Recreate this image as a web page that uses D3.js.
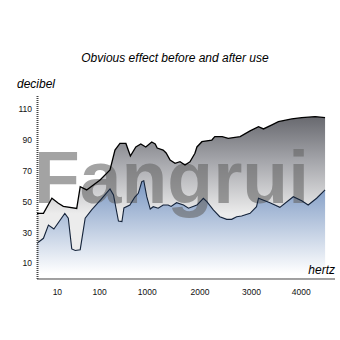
<!DOCTYPE html>
<head>
  <meta charset="utf-8">
  <script src="https://d3js.org/d3.v7.min.js"></script>
  <style>
    body { margin:0; background:#fff; }
    text { font-family: "Liberation Sans", Arial, sans-serif; }
  </style>
</head>
<body>
<script>
  // x is in axis "steps" (0..60), the frequency labels sit at uneven steps
  var tickPos = [4, 12.5, 22.1, 32.7, 43.1, 53.1]
  var tickLabels = ["10", "100", "1000", "2000", "3000", "4000"]
  var dbTicks = [10, 30, 50, 70, 90, 110]

  // before use (upper, grey)
  var beforeX = [0, 1.3, 3, 4.3, 5.3, 8, 8.7, 10, 12.7, 14.7, 15.7, 16.7, 17.9, 18.8, 19.9, 20.9, 21.9, 23.1, 23.8, 24.2,
    25.4, 26, 26.8, 27.8, 28.8, 29.8, 30.8, 31.8, 32.2, 33.2, 35.2, 35.8, 37.3, 38.5, 40.9, 42.9, 44.6, 45.6, 47.3, 48.6,
    51.3, 53.3, 56, 58]
  var beforeDb = [42.3, 42.3, 52.1, 48.8, 46.8, 45.5, 59.6, 57.5, 64, 70.5, 83.4, 87.7, 87.7, 79.5, 85.4, 87.3, 85.4, 88.6, 87.3, 84.7,
    83.4, 81.5, 76.9, 74.8, 75.8, 73.7, 75.8, 81.3, 85.4, 88.8, 89.9, 92.1, 92.1, 91, 92.1, 95.8, 98.6, 97.1, 99.7, 101.8,
    103.6, 104.4, 105.1, 104.4]

  // after use (lower, blue)
  var afterX = [0, 1.3, 2.3, 3.4, 5.6, 6.3, 7, 7.7, 8.7, 9.7, 11, 12.9, 14.7, 15.4, 16.4, 17.1, 17.5, 18.7, 19.7, 20.4,
    21.1, 21.5, 22.1, 22.8, 23.4, 24.4, 25.4, 26.4, 27, 28.1, 29.5, 30.5, 32.2, 33.5, 34.2, 35.5, 36.8, 38.2, 39.2, 40.2,
    41.2, 42.9, 44.2, 44.6, 46.9, 48.9, 51.6, 53.3, 54.6, 56.3, 58]
  var afterDb = [22.9, 26.1, 34.7, 32.1, 42.3, 39.1, 19.2, 18.2, 18.7, 39.1, 44.5, 51.3, 58.1, 54.2, 37.3, 36.9, 45.8, 47.7, 52.9, 55.3,
    62.9, 63.5, 53.1, 45.1, 46.6, 45.6, 47.7, 47.7, 46.8, 49.2, 47.7, 45.6, 47.7, 52.1, 49.9, 44.5, 40.1, 38.4, 38.4, 40.1,
    40.6, 42.3, 46.6, 52.1, 49.2, 46.2, 53.1, 50.5, 47.7, 52.1, 57.5]

  var svg = d3.select("body")
    .append("svg")
    .attr("width", 340)
    .attr("height", 340)

  var x = d3.scaleLinear().domain([0, 60]).range([37, 335])
  var y = d3.scaleLinear().domain([0, 119]).range([278.5, 95.2])

  var defs = svg.append("defs")
  var gGrey = defs.append("linearGradient").attr("id", "grey")
    .attr("gradientUnits", "userSpaceOnUse")
    .attr("x1", 0).attr("y1", y(106)).attr("x2", 0).attr("y2", y(42))
  gGrey.append("stop").attr("offset", 0).attr("stop-color", "#66676d")
  gGrey.append("stop").attr("offset", 0.45).attr("stop-color", "#a3a4a9")
  gGrey.append("stop").attr("offset", 1).attr("stop-color", "#ececec")

  var gBlue = defs.append("linearGradient").attr("id", "blue")
    .attr("gradientUnits", "userSpaceOnUse")
    .attr("x1", 0).attr("y1", y(64)).attr("x2", 0).attr("y2", y(3))
  gBlue.append("stop").attr("offset", 0).attr("stop-color", "#7a97c2")
  gBlue.append("stop").attr("offset", 1).attr("stop-color", "#ffffff")

  var before = beforeX.map(function(d, i) { return [d, beforeDb[i]] })
  var after = afterX.map(function(d, i) { return [d, afterDb[i]] })

  var area = d3.area()
    .x(function(d) { return x(d[0]) })
    .y0(y(0))
    .y1(function(d) { return y(d[1]) })
  var line = d3.line()
    .x(function(d) { return x(d[0]) })
    .y(function(d) { return y(d[1]) })

  svg.append("path").attr("d", area(before)).attr("fill", "url(#grey)")
  svg.append("path").attr("d", area(after)).attr("fill", "url(#blue)")

  // watermark
  svg.append("text")
    .attr("x", 34)
    .attr("y", 203)
    .style("font-family", "Liberation Sans, Arial, sans-serif")
    .style("font-weight", "bold")
    .style("font-size", "75px")
    .attr("fill", "#666")
    .attr("fill-opacity", 0.6)
    .text("Fangrui")

  svg.append("path").attr("d", line(before))
    .attr("fill", "none").attr("stroke", "#000").attr("stroke-width", 1.3)
  svg.append("path").attr("d", line(after))
    .attr("fill", "none").attr("stroke", "#14233a").attr("stroke-width", 1.1)

  var xAxis = d3.axisBottom(x)
    .tickValues(tickPos)
    .tickFormat(function(d, i) { return tickLabels[i] })
    .tickSize(0)
    .tickPadding(10)
  var yAxis = d3.axisLeft(y)
    .tickValues(dbTicks)
    .tickSize(0)
    .tickPadding(5)

  svg.append("g")
    .attr("transform", "translate(0," + y(0) + ")")
    .call(xAxis)
  svg.append("g")
    .attr("transform", "translate(" + x(0) + ",0)")
    .call(yAxis)

  svg.selectAll(".domain")
    .attr("stroke", "#444")
    .attr("stroke-width", 2)
    .attr("stroke-dasharray", "1,1")
  svg.selectAll(".tick text")
    .style("font-family", "Liberation Sans, Arial, sans-serif")
    .style("font-size", "8.5px")
    .attr("fill", "#111")

  svg.append("text")
    .attr("x", 175).attr("y", 62)
    .attr("text-anchor", "middle")
    .style("font-style", "italic").style("font-size", "12px")
    .text("Obvious effect before and after use")
  svg.append("text")
    .attr("x", 17).attr("y", 88)
    .style("font-style", "italic").style("font-size", "12px")
    .text("decibel")
  svg.append("text")
    .attr("x", 335).attr("y", 274)
    .attr("text-anchor", "end")
    .style("font-style", "italic").style("font-size", "12px")
    .text("hertz")
</script>
</body>
